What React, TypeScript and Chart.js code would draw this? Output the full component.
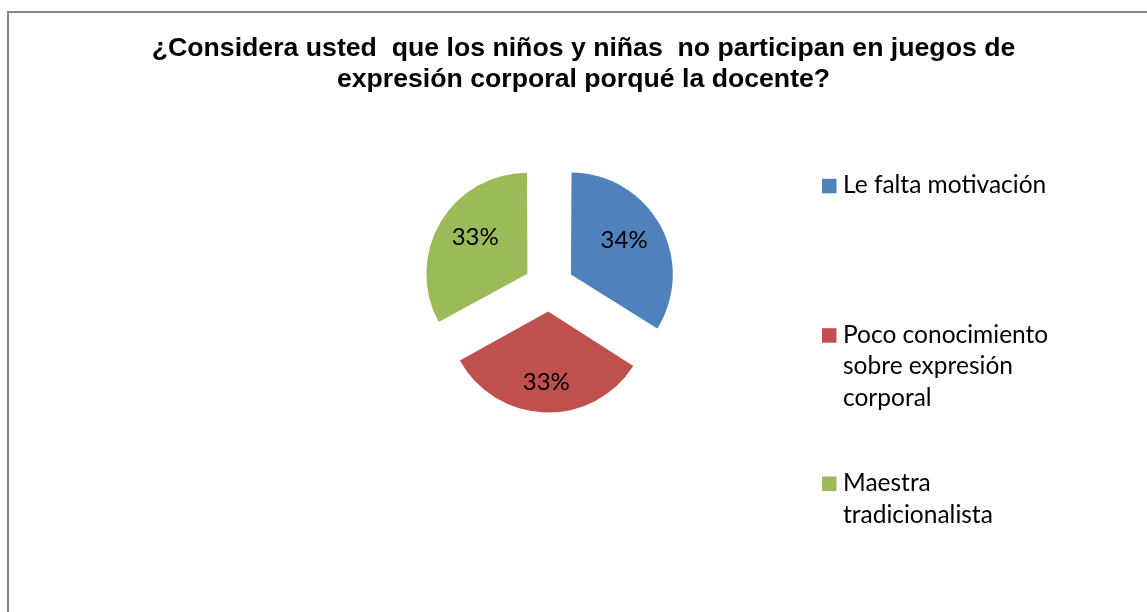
import React, { useEffect, useRef } from "react";
import { Chart, registerables } from "chart.js";

Chart.register(...registerables);

const titleLines = [
  "¿Considera usted  que los niños y niñas  no participan en juegos de",
  "expresión corporal porqué la docente?",
];
const categories = [
  "Le falta motivación",
  "Poco conocimiento sobre expresión corporal",
  "Maestra tradicionalista",
];
const legendLines = [
  ["Le falta motivación"],
  ["Poco conocimiento", "sobre expresión", "corporal"],
  ["Maestra", "tradicionalista"],
];
const values = [34, 33, 33];
const colors = ["#4F81BD", "#C0504D", "#9BBB59"];

const BODY_FONT = "Lato, 'Open Sans', sans-serif";

const decorPlugin = {
  id: "decor",
  beforeDraw(chart: any) {
    const ctx = chart.ctx;
    ctx.save();
    ctx.fillStyle = "#ffffff";
    ctx.fillRect(0, 0, chart.width, chart.height);
    ctx.strokeStyle = "#868686";
    ctx.lineWidth = 2;
    ctx.beginPath();
    ctx.moveTo(8, chart.height + 5);
    ctx.lineTo(8, 12);
    ctx.lineTo(chart.width + 5, 12);
    ctx.stroke();
    ctx.restore();
  },
  afterDraw(chart: any) {
    const ctx = chart.ctx;
    ctx.save();
    // title
    ctx.fillStyle = "#000000";
    ctx.font = "bold 26.67px 'Liberation Sans', Arial, sans-serif";
    ctx.textAlign = "center";
    ctx.textBaseline = "alphabetic";
    const titleBase = [56, 86.5];
    titleLines.forEach((line, i) => ctx.fillText(line, 583.5, titleBase[i]));

    // legend
    ctx.font = "24.5px " + BODY_FONT;
    ctx.textAlign = "left";
    const itemBase = [193.3, 342.7, 491];
    const lineH = 31.5;
    const bg = chart.data.datasets[0].backgroundColor;
    legendLines.forEach((lines, i) => {
      ctx.fillStyle = bg[i];
      ctx.fillRect(822, itemBase[i] - 14.5, 14.5, 14.5);
      ctx.fillStyle = "#000000";
      lines.forEach((t, j) => ctx.fillText(t, 843, itemBase[i] + j * lineH));
    });

    // data labels
    const meta = chart.getDatasetMeta(0);
    const data = chart.data.datasets[0].data as number[];
    const total = data.reduce((a, b) => a + b, 0);
    ctx.font = "24px " + BODY_FONT;
    ctx.textAlign = "center";
    ctx.textBaseline = "middle";
    meta.data.forEach((arc: any, i: number) => {
      const p = arc.getProps(["x", "y", "startAngle", "endAngle", "outerRadius"], true);
      const mid = (p.startAngle + p.endAngle) / 2;
      const off = (arc.options.offset || 0) / 4;
      const d = off + p.outerRadius * 0.62;
      const x = p.x + Math.cos(mid) * d;
      const y = p.y + Math.sin(mid) * d * 1.12;
      const pct = Math.round((data[i] / total) * 100) + "%";
      ctx.fillText(pct, x, y);
    });
    ctx.restore();
  },
};

export default function App() {
  const ref = useRef<HTMLCanvasElement | null>(null);
  useEffect(() => {
    if (!ref.current) return;
    const chart = new Chart(ref.current, {
      type: "pie",
      data: {
        labels: categories,
        datasets: [
          {
            data: values,
            backgroundColor: colors,
            borderWidth: 0,
            offset: 100,
            hoverOffset: 0,
          },
        ],
      },
      options: {
        responsive: false,
        animation: false,
        radius: 98,
        layout: { padding: { left: 0, right: 49, top: 0, bottom: 39 } },
        plugins: {
          legend: { display: false },
          title: { display: false },
          tooltip: { enabled: false },
        },
        events: [],
      } as any,
      plugins: [decorPlugin],
    });
    return () => chart.destroy();
  }, []);
  return (
    <div style={{ position: "absolute", left: 0, top: 0, width: 1147, height: 612, background: "#fff" }}>
      <canvas ref={ref} width={1147} height={612} style={{ width: 1147, height: 612, display: "block" }} />
    </div>
  );
}
